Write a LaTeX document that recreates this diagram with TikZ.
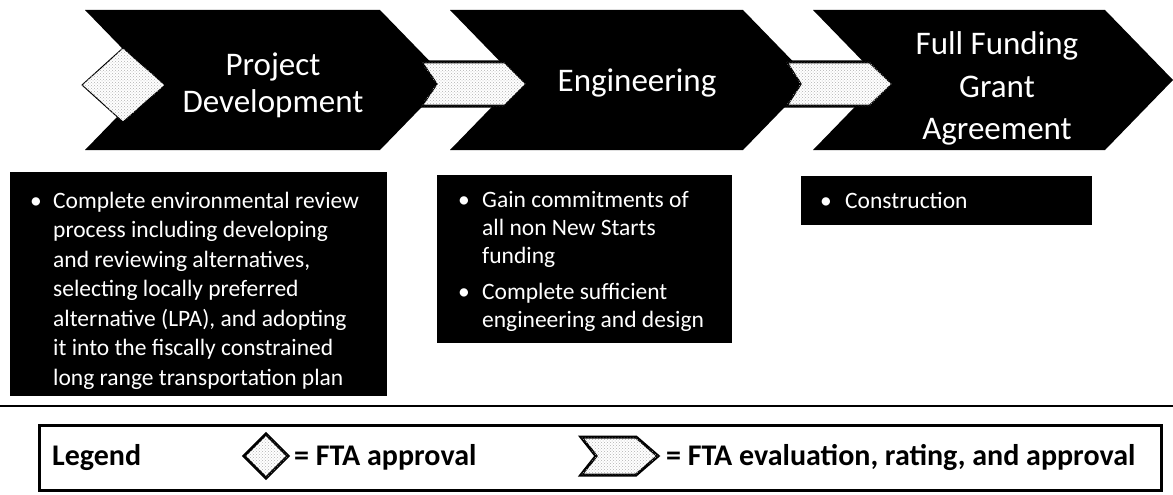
\documentclass[tikz,border=0pt]{standalone}
\usepackage{fontspec}
\setmainfont{Carlito}
\usetikzlibrary{patterns}
\begin{document}
\begin{tikzpicture}[x=1pt,y=-1pt,
  chev/.style={fill=black},
  speck/.style={fill=white, draw=black, line width=1pt},
  speckdots/.style={pattern=crosshatch dots, pattern color=black!30},
  ctext/.style={text=white, inner sep=0pt, font=\fontsize{33}{37}\selectfont},
  tbox/.style={fill=black, inner sep=0pt, anchor=north west},
  btxt/.style={text=white, inner sep=0pt, anchor=base west, font=\fontsize{23.5}{29.5}\selectfont},
  ltxt/.style={inner sep=0pt, anchor=base west, font=\fontsize{30}{34}\selectfont\bfseries},
  legbox/.style={draw=black, line width=2.5pt, inner sep=0pt, anchor=north west},
  icon/.style={draw=black, line width=3pt, fill=white}
]
\useasboundingbox (0,0) rectangle (1173,495);
\fill[white] (0,0) rectangle (1173,495);

% ---------- chevrons ----------
\fill[chev] (85,10) -- (380,10) -- (448,80) -- (380,150) -- (85,150) -- (153,80) -- cycle;
\fill[chev] (450,10) -- (743,10) -- (811,80) -- (743,150) -- (450,150) -- (518,80) -- cycle;
\fill[chev] (813,10) -- (1105,10) -- (1173,80) -- (1105,150) -- (813,150) -- (881,80) -- cycle;

% diamond (FTA approval)
\path[speck] (82,85) -- (123,48) -- (165,85) -- (123,122) -- cycle;
\path[speckdots] (82,85) -- (123,48) -- (165,85) -- (123,122) -- cycle;
% small arrows (FTA evaluation)
\path[speck, line width=3pt] (421,62) -- (505,62) -- (527,84) -- (505,106) -- (421,106) -- (436,84) -- cycle;
\path[speckdots] (421,62) -- (505,62) -- (527,84) -- (505,106) -- (421,106) -- (436,84) -- cycle;
\path[speck, line width=3pt] (786,62) -- (870,62) -- (893,84) -- (870,106) -- (786,106) -- (800,84) -- cycle;
\path[speckdots] (786,62) -- (870,62) -- (893,84) -- (870,106) -- (786,106) -- (800,84) -- cycle;

% chevron titles
\node[ctext, anchor=base] (pd1) at (273,75) {Project};
\node[ctext, anchor=base] (pd2) at (273,112) {Development};
\node[ctext, anchor=base] (en1) at (637,92) {Engineering};
\node[ctext, anchor=base] (ff1) at (997,55) {Full Funding};
\node[ctext, anchor=base] (ff2) at (997,97) {Grant};
\node[ctext, anchor=base] (ff3) at (997,139) {Agreement};

% ---------- text boxes ----------
\node[tbox, minimum width=377, minimum height=224] (box1) at (10,172) {};
\node[tbox, minimum width=295, minimum height=168] (box2) at (437,175) {};
\node[tbox, minimum width=291, minimum height=49] (box3) at (801,176) {};

\node[btxt] (b1) at (30,208) {\textbullet};
\foreach \t [count=\i] in {Complete environmental review, process including developing,
  {and reviewing alternatives,}, selecting locally preferred,
  {alternative (LPA), and adopting}, it into the fiscally constrained,
  long range transportation plan}
  \node[btxt] (a\i) at (53,{208+29.5*(\i-1)}) {\t};

\node[btxt] (b2) at (458,207) {\textbullet};
\node[btxt] (c1) at (482,207) {Gain commitments of};
\node[btxt] (c2) at (482,235) {all non New Starts};
\node[btxt] (c3) at (482,263) {funding};
\node[btxt] (b3) at (458,299) {\textbullet};
\node[btxt] (c4) at (482,299) {Complete sufficient};
\node[btxt] (c5) at (482,327) {engineering and design};

\node[btxt] (b4) at (820,208) {\textbullet};
\node[btxt] (d1) at (845,208) {Construction};

% ---------- separator and legend ----------
\draw[line width=2.5pt] (0,406) -- (1173,406);
\node[legbox, minimum width=1122, minimum height=65] (leg) at (38,424) {};
\node[ltxt] (lg) at (52,465) {Legend};
\path[icon] (244,456) -- (266,434) -- (288,456) -- (266,478) -- cycle;
\path[speckdots] (244,456) -- (266,434) -- (288,456) -- (266,478) -- cycle;
\node[ltxt] (lfa) at (294,465) {= FTA approval};
\path[icon] (581,437) -- (636,437) -- (658,456) -- (636,475) -- (581,475) -- (596,456) -- cycle;
\path[speckdots] (581,437) -- (636,437) -- (658,456) -- (636,475) -- (581,475) -- (596,456) -- cycle;
\node[ltxt] (lfe) at (666,465) {= FTA evaluation, rating, and approval};
\end{tikzpicture}
\end{document}
